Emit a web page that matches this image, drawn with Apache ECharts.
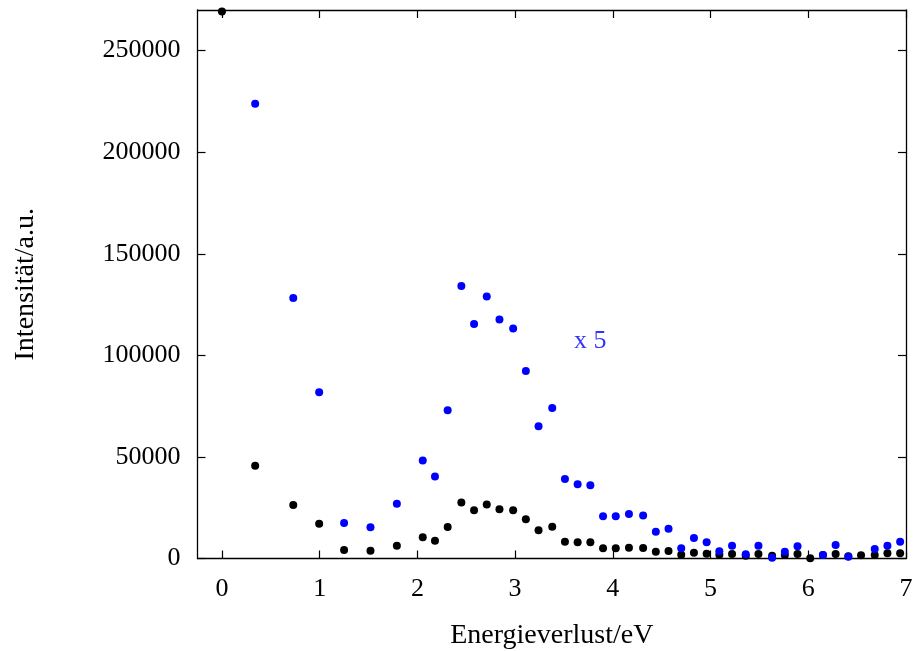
<!DOCTYPE html>
<html>
<head>
<meta charset="utf-8">
<script src="https://cdn.jsdelivr.net/npm/echarts@6/dist/echarts.min.js"></script>
<style>
  html, body { margin: 0; padding: 0; background: #fff; }
  #chart { width: 920px; height: 651px; }
</style>
</head>
<body>
<div id="chart"></div>
<script>
// Energy loss (eV) of each measured channel
const energy = [0, 0.34, 0.73, 0.995, 1.25, 1.52, 1.79, 2.055, 2.18, 2.31, 2.45, 2.58, 2.71, 2.84, 2.98,
  3.11, 3.24, 3.38, 3.51, 3.64, 3.77, 3.90, 4.03, 4.165, 4.31, 4.44, 4.57, 4.70, 4.83, 4.96,
  5.09, 5.22, 5.36, 5.49, 5.63, 5.76, 5.89, 6.02, 6.15, 6.28, 6.41, 6.54, 6.68, 6.81, 6.94];

// Measured intensity (a.u.)
const intensity = [269300, 45600, 26300, 17100, 4200, 3800, 6300, 10400, 8750, 15500, 27600, 23800, 26600, 24300, 23700,
  19300, 13850, 15650, 8260, 7950, 7950, 5000, 5000, 5300, 5160, 3340, 3690, 1870, 2850, 2360,
  1870, 2210, 1380, 2210, 1380, 1720, 2210, 100, 1720, 2210, 1080, 1570, 1720, 2560, 2560];

// Same spectrum, magnified five times (points off the scale left out)
const intensityX5 = [null, 223900, 128200, 81850, 17450, 15340, 26950, 48270, 40400, 73000, 134100, 115400, 129000, 117700, 113200,
  92300, 65100, 74100, 39100, 36600, 36000, 20750, 20750, 21900, 21200, 13200, 14600, 5000, 10080, 7960,
  3540, 6300, 2060, 6300, 400, 3340, 6000, null, 1720, 6600, 900, null, 4670, 6300, 8260];

const xTicks = [0, 1, 2, 3, 4, 5, 6, 7];
const yTicks = [0, 50000, 100000, 150000, 200000, 250000];

const magLabel = { text: 'x 5', x: 3.77, y: 106900 };

const FONT = '"Liberation Serif", "Times New Roman", serif';

function pairs(xs, ys) {
  const out = [];
  for (let i = 0; i < xs.length; i++) {
    if (ys[i] !== null) out.push([xs[i], ys[i]]);
  }
  return out;
}

const frameLine = { show: true, onZero: false, lineStyle: { color: '#000', width: 1.3 } };
const plainNumber = v => String(v);

function xAxisDef(pos, showLabels) {
  return {
    type: 'value', position: pos, min: -0.25, max: 7,
    axisLine: frameLine,
    axisTick: { show: true, inside: true, length: 8, customValues: xTicks, lineStyle: { color: '#000', width: 1.2 } },
    axisLabel: { show: showLabels, customValues: xTicks, formatter: plainNumber, margin: 18, color: '#000', fontFamily: FONT, fontSize: 26 },
    splitLine: { show: false }
  };
}

function yAxisDef(pos, showLabels) {
  return {
    type: 'value', position: pos, min: 0, max: 270000,
    axisLine: frameLine,
    axisTick: { show: true, inside: true, length: 8, customValues: yTicks, lineStyle: { color: '#000', width: 1.2 } },
    axisLabel: { show: showLabels, customValues: yTicks, formatter: plainNumber, margin: 17, color: '#000', fontFamily: FONT, fontSize: 26 },
    splitLine: { show: false }
  };
}

const xBottom = xAxisDef('bottom', true);
xBottom.name = 'Energieverlust/eV';
xBottom.nameLocation = 'middle';
xBottom.nameGap = 63;
xBottom.nameTextStyle = { color: '#000', fontFamily: FONT, fontSize: 28 };

const yLeft = yAxisDef('left', true);
yLeft.name = 'Intensität/a.u.';
yLeft.nameLocation = 'middle';
yLeft.nameGap = 158;
yLeft.nameTextStyle = { color: '#000', fontFamily: FONT, fontSize: 28 };

const chart = echarts.init(document.getElementById('chart'), null, { renderer: 'canvas' });
chart.setOption({
  animation: false,
  backgroundColor: '#fff',
  grid: { left: 197.5, right: 14, top: 10, bottom: 92.5, containLabel: false, outerBoundsMode: 'none' },
  xAxis: [xBottom, xAxisDef('top', false)],
  yAxis: [yLeft, yAxisDef('right', false)],
  series: [
    {
      type: 'scatter', name: 'Intensität', xAxisIndex: 0, yAxisIndex: 0,
      symbol: 'circle', symbolSize: 8, clip: false,
      itemStyle: { color: '#000', opacity: 1 },
      data: pairs(energy, intensity)
    },
    {
      type: 'scatter', name: 'Intensität x 5', xAxisIndex: 0, yAxisIndex: 0,
      symbol: 'circle', symbolSize: 8,
      itemStyle: { color: '#0000ff', opacity: 1 },
      data: pairs(energy, intensityX5)
    },
    {
      type: 'scatter', name: 'label', xAxisIndex: 0, yAxisIndex: 0,
      symbolSize: 0, silent: true,
      label: { show: true, position: 'inside', formatter: magLabel.text, color: '#0000ff', fontFamily: FONT, fontSize: 26 },
      data: [[magLabel.x, magLabel.y]]
    }
  ]
});
</script>
</body>
</html>
